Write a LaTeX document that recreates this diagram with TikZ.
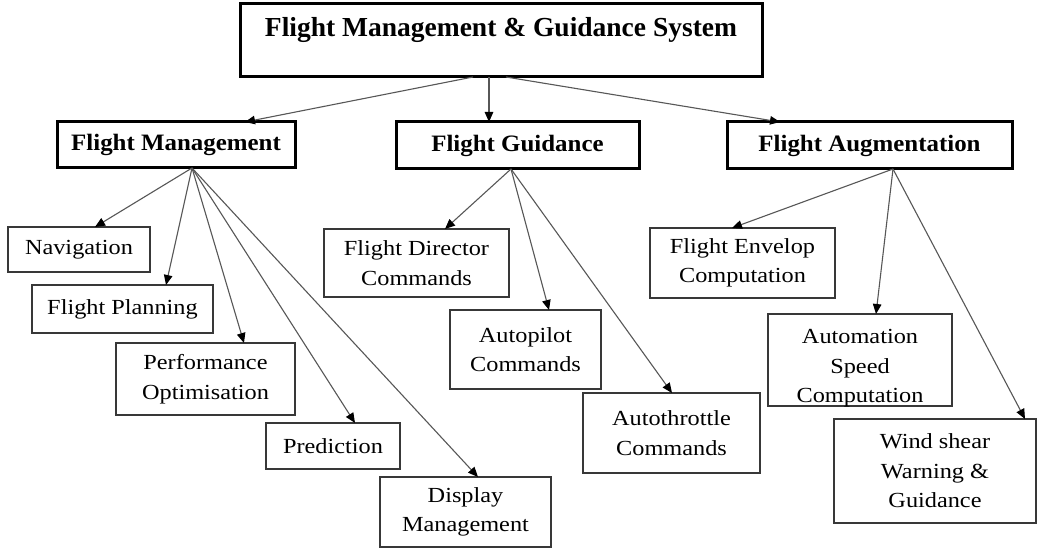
\documentclass[tikz,border=0pt]{standalone}
\usepackage{fontspec}
\setmainfont{Liberation Serif}
\newfontfamily\leaffont[FakeStretch=1.13]{Liberation Serif}
\newfontfamily\headfont[FakeStretch=1.06]{Liberation Serif}
\usetikzlibrary{arrows.meta}

\begin{document}
\begin{tikzpicture}[x=1pt,y=-1pt,
  boxbase/.style={inner sep=0pt, outer sep=0pt, anchor=north west},
  rootbox/.style={boxbase, draw=black, line width=3pt,
    font=\bfseries\fontsize{27.5}{33}\selectfont},
  headbox/.style={boxbase, draw=black, line width=3pt,
    font=\headfont\bfseries\fontsize{23.5}{28}\selectfont},
  leafbox/.style={boxbase, draw=black!78, line width=1.3pt, align=center,
    font=\leaffont\fontsize{21.5}{29.5}\selectfont},
  link/.style={draw=black!66, line width=1.1pt,
    -{Triangle[length=10pt,width=8.5pt,color=black]}}
]
\useasboundingbox[fill=white] (0,0) rectangle (1037,548);

% root
\node[rootbox, minimum width=522pt, minimum height=73pt,
      text height=19pt, text depth=26pt] (root) at (240,4)
  {Flight Management \& Guidance System};

% second level
\node[headbox, minimum width=238pt, minimum height=46pt] (fm) at (57,122) {Flight Management};
\node[headbox, minimum width=243pt, minimum height=47pt] (fg) at (396,122) {Flight Guidance};
\node[headbox, minimum width=285pt, minimum height=47pt] (fa) at (727,122) {Flight Augmentation};

% flight management
\node[leafbox, minimum width=142pt, minimum height=45pt] (nav)  at (8,227)   {Navigation};
\node[leafbox, minimum width=181pt, minimum height=48pt] (plan) at (32,285)  {Flight Planning};
\node[leafbox, minimum width=179pt, minimum height=72pt] (perf) at (116,343) {Performance\\Optimisation};
\node[leafbox, minimum width=134pt, minimum height=46pt] (pred) at (266,423) {Prediction};
\node[leafbox, minimum width=171pt, minimum height=70pt] (disp) at (380,477) {Display\\Management};

% flight guidance
\node[leafbox, minimum width=185pt, minimum height=68pt] (fdc) at (324,229) {Flight Director\\Commands};
\node[leafbox, minimum width=151pt, minimum height=79pt] (ap)  at (450,310) {Autopilot\\Commands};
\node[leafbox, minimum width=177pt, minimum height=80pt] (at)  at (583,393) {Autothrottle\\Commands};

% flight augmentation
\node[leafbox, minimum width=185pt, minimum height=70pt]  (fe) at (650,228) {Flight Envelop\\Computation};
\node[leafbox, minimum width=184pt, minimum height=92pt]  (as) at (768,314)
  {\rule{0pt}{26pt}Automation\\Speed\\\smash{Computation}};
\node[leafbox, minimum width=202pt, minimum height=104pt] (ws) at (834,419) {Wind shear\\Warning \&\\Guidance};

% connectors
\draw[link] ([xshift=233pt]root.south west) -- ([xshift=188pt]fm.north west);
\draw[link] ([xshift=249pt]root.south west) -- ([xshift=93pt]fg.north west);
\draw[link] ([xshift=266pt]root.south west) -- ([xshift=53pt]fa.north west);

\draw[link] ([xshift=135pt]fm.south west) -- ([xshift=87pt]nav.north west);
\draw[link] ([xshift=135pt]fm.south west) -- ([xshift=134pt]plan.north west);
\draw[link] ([xshift=135pt]fm.south west) -- ([xshift=128pt]perf.north west);
\draw[link] ([xshift=135pt]fm.south west) -- ([xshift=89pt]pred.north west);
\draw[link] ([xshift=135pt]fm.south west) -- ([xshift=98pt]disp.north west);

\draw[link] ([xshift=115pt]fg.south west) -- ([xshift=121pt]fdc.north west);
\draw[link] ([xshift=115pt]fg.south west) -- ([xshift=99pt]ap.north west);
\draw[link] ([xshift=115pt]fg.south west) -- ([xshift=89pt]at.north west);

\draw[link] ([xshift=166pt]fa.south west) -- ([xshift=82pt]fe.north west);
\draw[link] ([xshift=166pt]fa.south west) -- ([xshift=108pt]as.north west);
\draw[link] ([xshift=166pt]fa.south west) -- ([xshift=191pt]ws.north west);
\end{tikzpicture}
\end{document}
